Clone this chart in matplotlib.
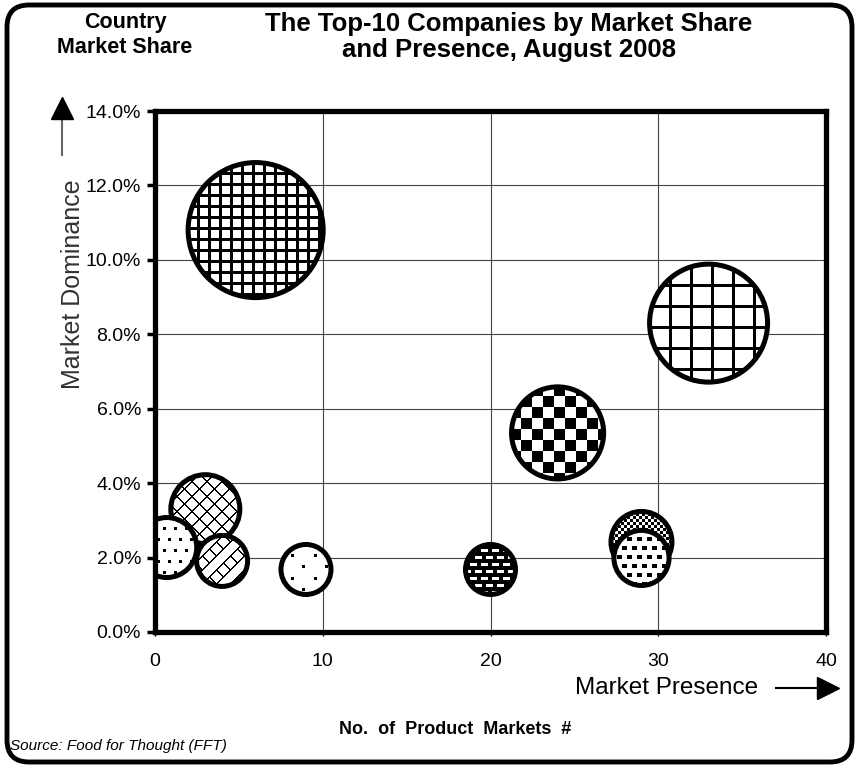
import numpy as np
import matplotlib
matplotlib.use("Agg")
import matplotlib.pyplot as plt
from matplotlib.path import Path
from matplotlib.patches import FancyBboxPatch
from matplotlib.lines import Line2D
from matplotlib.transforms import Affine2D, ScaledTranslation, IdentityTransform

# bubble data
market_presence = [6, 33, 24, 3, 0.7, 4, 9, 20, 29, 29]
market_share = [10.8, 8.3, 5.35, 3.3, 2.27, 1.91, 1.68, 1.68, 2.42, 1.99]
bubble_size = [45.6, 34.8, 21.2, 11.9, 9.0, 6.5, 6.25, 6.25, 9.3, 7.6]
x_ticks = [0, 10, 20, 30, 40]
y_ticks = [0, 2, 4, 6, 8, 10, 12, 14]

# fill pattern of each bubble
patterns = ['grid_fine', 'grid_wide', 'checker', 'diamond', 'dots', 'diag',
            'dots_wide', 'bricks', 'checker_fine', 'squares']

DPI = 100
SIZE_SCALE = 207.4
REG = ['Liberation Sans', 'DejaVu Sans']


def pattern(name, n):
    # 1 = black pixel, 0 = white pixel
    i, j = np.indices((n, n))
    if name == 'grid_fine':
        m = (i % 11 < 3) | (j % 11 < 3)
    elif name == 'grid_wide':
        m = (i % 21 < 3) | (j % 21 < 3)
    elif name == 'checker':
        m = ((i // 11) + (j // 11)) % 2 == 0
    elif name == 'diamond':
        m = ((i + j) % 15 < 2) | ((i - j) % 15 < 2)
    elif name == 'dots':
        m = (i % 11 < 3) & ((j + 5 * ((i // 11) % 2)) % 11 < 3)
    elif name == 'diag':
        m = ((i + j) % 14 < 2) | (((i - j) % 14 < 2) & ((i + j) % 28 < 14))
    elif name == 'dots_wide':
        m = ((i % 23 < 3) & (j % 23 < 3)) | (((i + 11) % 23 < 3) & ((j + 11) % 23 < 3))
    elif name == 'bricks':
        m = ~((i % 7 < 3) & ((j + 5 * ((i // 7) % 2)) % 11 < 7))
    elif name == 'checker_fine':
        m = ((i // 3) + (j // 3)) % 2 == 0
    else:
        m = (i % 9 < 4) & ((j + 5 * ((i // 9) % 2)) % 10 < 5)
    return m.astype(float)


fig = plt.figure(figsize=(8.58, 7.67), dpi=DPI)
ax = fig.add_axes([155 / 858, 1 - 632 / 767, 671 / 858, 521 / 767])

ax.set_xlim(0, 40)
ax.set_ylim(0, 14)

for k, (x, y, sz, pat) in enumerate(zip(market_presence, market_share, bubble_size, patterns)):
    s = SIZE_SCALE * sz
    r_px = np.sqrt(s) / 2 * DPI / 72
    n = int(2 * r_px) + 4
    z = 3 + k
    # pattern image centred on the bubble, clipped to its circle
    offset = ScaledTranslation(x, y, ax.transData)
    im = ax.imshow(pattern(pat, n), cmap='gray_r', vmin=0, vmax=1,
                   interpolation='nearest', aspect='auto',
                   extent=(-n / 2, n / 2, -n / 2, n / 2),
                   transform=Affine2D() + offset, zorder=z)
    im.set_clip_path(Path.unit_circle(), Affine2D().scale(r_px) + offset)
    ax.scatter([x], [y], s=s, facecolors='none', edgecolors='black',
               linewidths=3.6, zorder=z + 0.5)

ax.set_xlim(0, 40)
ax.set_ylim(0, 14)

ax.set_axisbelow(True)
ax.grid(True, color='#444444', lw=0.8)
for sp in ax.spines.values():
    sp.set_linewidth(3.8)
    sp.set_zorder(20)

ax.set_xticks(x_ticks)
ax.set_xticklabels([str(v) for v in x_ticks], fontfamily=REG, fontsize=14)
ax.set_yticks(y_ticks)
ax.set_yticklabels([f"{v:.1f}%" for v in y_ticks], fontfamily=REG, fontsize=14)
ax.tick_params(axis='y', direction='out', length=6, width=2.5, pad=4)
ax.tick_params(axis='x', direction='out', length=3, width=1, pad=12)


def fx(px):
    return px / 858


def fy(py):
    return 1 - py / 767


# titles
fig.text(fx(125), fy(35), "Country\nMarket Share", ha='center', va='center',
         fontsize=15.5, fontweight='bold', fontfamily=REG, linespacing=1.25)
fig.text(fx(509), fy(37), "The Top-10 Companies by Market Share\nand Presence, August 2008",
         ha='center', va='center', fontsize=18.5, fontweight='bold', fontfamily=REG,
         linespacing=1.08)

# y axis arrow and label
fig.add_artist(Line2D([fx(62), fx(62)], [fy(116), fy(155)], color='#666666', lw=1.5))
fig.add_artist(Line2D([fx(62)], [fy(108)], marker='^', markersize=16, color='black', lw=0))
fig.text(fx(73), fy(284), "Market Dominance", rotation=90, ha='center', va='center',
         fontsize=18, color='#333333', fontfamily=REG)

# x axis arrow and labels
fig.text(fx(667), fy(688), "Market Presence", ha='center', va='center',
         fontsize=17.5, fontfamily=REG)
fig.add_artist(Line2D([fx(776), fx(822)], [fy(688), fy(688)], color='black', lw=1.5))
fig.add_artist(Line2D([fx(828)], [fy(688)], marker='>', markersize=16, color='black', lw=0))
fig.text(fx(455), fy(730), "No.  of  Product  Markets  #", ha='center', va='center',
         fontsize=13, fontweight='bold', fontfamily=REG)
fig.text(fx(10), fy(746), "Source: Food for Thought (FFT)", ha='left', va='center',
         fontsize=11, fontstyle='italic', fontfamily=REG)

# rounded outer border
fig.add_artist(FancyBboxPatch((7, 5), 845, 757, boxstyle="round,pad=0,rounding_size=22",
                              transform=IdentityTransform(), facecolor='none',
                              edgecolor='black', lw=3.5))

fig.savefig("out.png", dpi=DPI)
